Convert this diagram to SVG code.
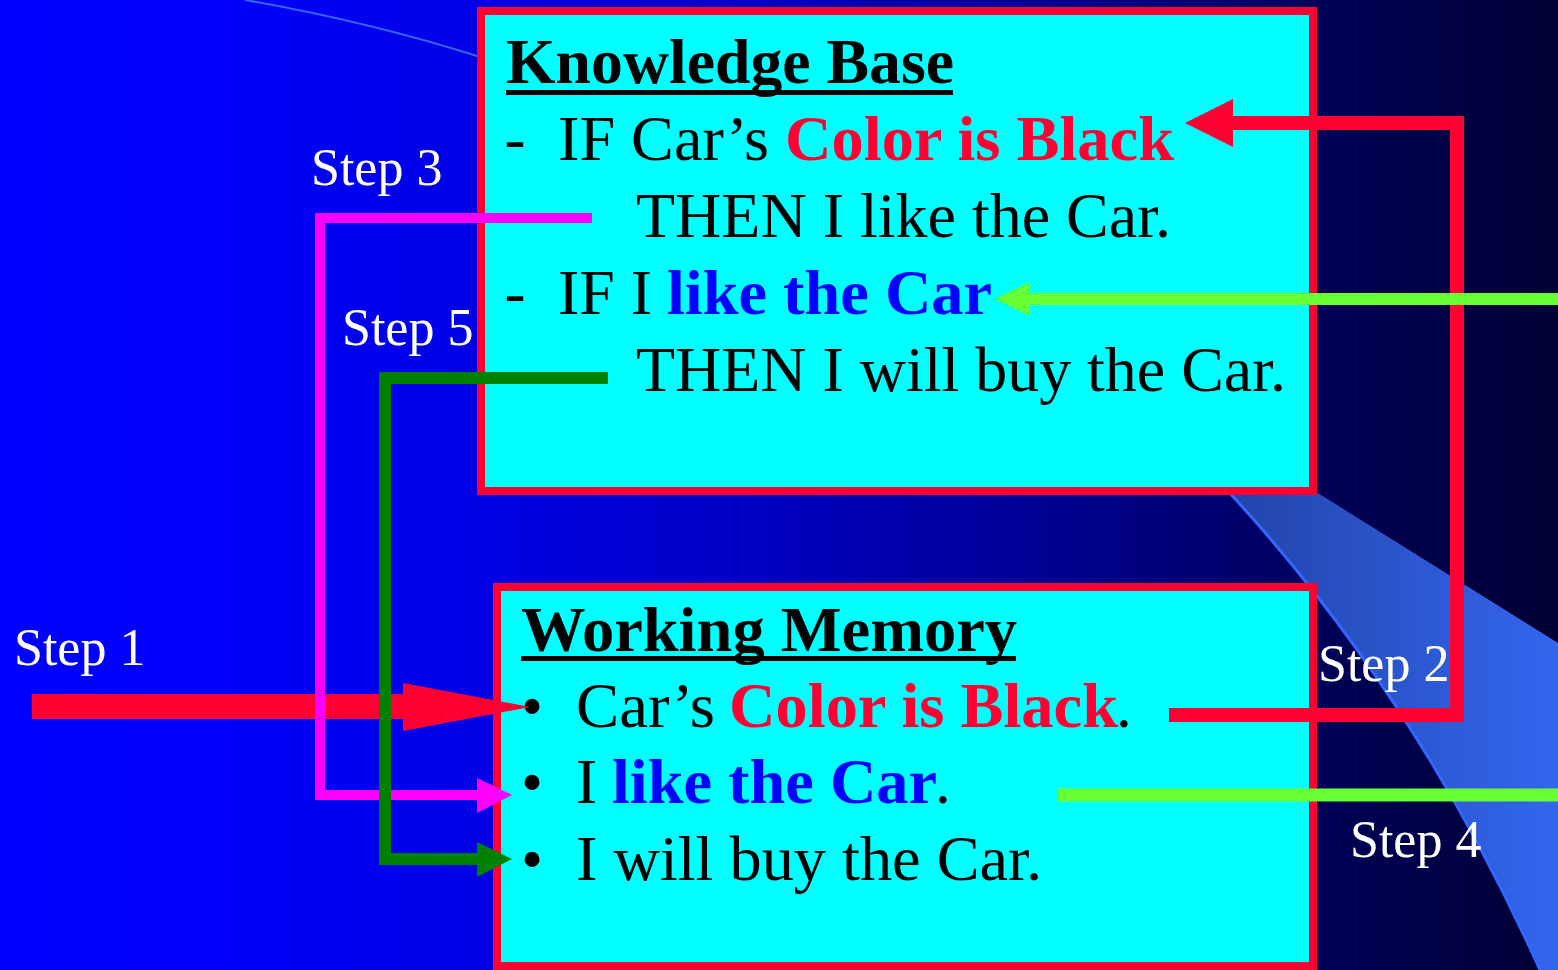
<svg xmlns="http://www.w3.org/2000/svg" width="1558" height="970" viewBox="0 0 1558 970">
<defs>
<linearGradient id="bg" x1="0" y1="0" x2="1558" y2="0" gradientUnits="userSpaceOnUse">
<stop offset="0" stop-color="#0000FF"/>
<stop offset="0.15" stop-color="#0000FA"/>
<stop offset="0.30" stop-color="#0000E6"/>
<stop offset="0.50" stop-color="#0000C0"/>
<stop offset="0.65" stop-color="#000098"/>
<stop offset="0.78" stop-color="#000070"/>
<stop offset="0.85" stop-color="#000058"/>
<stop offset="1" stop-color="#000033"/>
</linearGradient>
<linearGradient id="band" x1="1227" y1="0" x2="1558" y2="0" gradientUnits="userSpaceOnUse">
<stop offset="0" stop-color="#2244AA"/>
<stop offset="1" stop-color="#3366EE"/>
</linearGradient>
<style>
.t{font-family:"Liberation Serif","Times New Roman",serif;font-size:63px;fill:#000}
.b{font-weight:bold}
.red{fill:#FF0033}
.blu{fill:#0000FF}
.step{font-family:"Liberation Serif","Times New Roman",serif;font-size:52px;fill:#FFFFFF}
.box{fill:#00FFFF;stroke:#FF0033;stroke-width:8}
.ul{fill:#000}
.ln{fill:none;stroke-linejoin:miter;stroke-linecap:butt}
</style>
</defs>
<g id="background">
<rect x="0" y="0" width="1558" height="970" fill="url(#bg)"/>
<path d="M1227,490 Q1416,694 1540,970 L1558,970 L1558,643 L1313,490 Z" fill="url(#band)"/>
<path d="M1227,490 Q1416,694 1540,970" fill="none" stroke="#3366FF" stroke-width="3"/>
<path d="M245,0 Q370,22 480,57" fill="none" stroke="#3366FF" stroke-width="2"/>
</g>
<g id="node-knowledge-base">
<rect class="box" x="481" y="11" width="832" height="480"/>
<text class="t b" x="506" y="83" textLength="448" lengthAdjust="spacingAndGlyphs">Knowledge Base</text>
<rect class="ul" x="506" y="90" width="447" height="5"/>
<text class="t" x="504.5" y="160">-</text>
<text class="t" x="558" y="160" textLength="211" lengthAdjust="spacingAndGlyphs">IF Car’s</text>
<text class="t b red" x="785" y="160" textLength="389" lengthAdjust="spacingAndGlyphs">Color is Black</text>
<text class="t" x="636" y="237" textLength="535" lengthAdjust="spacingAndGlyphs">THEN I like the Car.</text>
<text class="t" x="504.5" y="314">-</text>
<text class="t" x="558" y="314" textLength="94" lengthAdjust="spacingAndGlyphs">IF I</text>
<text class="t b blu" x="667" y="314" textLength="325" lengthAdjust="spacingAndGlyphs">like the Car</text>
<text class="t" x="636" y="391" textLength="650" lengthAdjust="spacingAndGlyphs">THEN I will buy the Car.</text>
</g>
<g id="node-working-memory">
<rect class="box" x="497" y="587" width="816" height="379"/>
<text class="t b" x="521" y="651" textLength="496" lengthAdjust="spacingAndGlyphs">Working Memory</text>
<rect class="ul" x="521" y="656" width="495" height="5"/>
<text class="t" x="521" y="727">•</text>
<text class="t" x="576" y="727" textLength="139" lengthAdjust="spacingAndGlyphs">Car’s</text>
<text class="t b red" x="729" y="727" textLength="389" lengthAdjust="spacingAndGlyphs">Color is Black</text>
<text class="t" x="1116" y="727">.</text>
<text class="t" x="521" y="803">•</text>
<text class="t" x="576" y="803">I</text>
<text class="t b blu" x="612" y="803" textLength="325" lengthAdjust="spacingAndGlyphs">like the Car</text>
<text class="t" x="935" y="803">.</text>
<text class="t" x="521" y="880">•</text>
<text class="t" x="576" y="880" textLength="466" lengthAdjust="spacingAndGlyphs">I will buy the Car.</text>
</g>
<g id="connectors">
<g id="step1">
<rect x="32" y="694" width="373" height="25" fill="#FF0033"/>
<polygon points="403,683 403,731 530,707" fill="#FF0033"/>
</g>
<g id="step2">
<path class="ln" d="M1169,715 H1457 V123 H1230" stroke="#FF0033" stroke-width="14"/>
<polygon points="1233,99 1233,147 1185,123" fill="#FF0033"/>
</g>
<g id="step3">
<path class="ln" d="M592,218 H320 V795 H480" stroke="#FF00FF" stroke-width="10"/>
<polygon points="477,778 477,813 512,795" fill="#FF00FF"/>
</g>
<g id="step4">
<path class="ln" d="M1558,299 H1028" stroke="#66FF33" stroke-width="12"/>
<polygon points="1030,282 1030,316 995,299" fill="#66FF33"/>
<path class="ln" d="M1058,795 H1558" stroke="#66FF33" stroke-width="13"/>
</g>
<g id="step5">
<path class="ln" d="M608,378 H385 V859 H480" stroke="#008000" stroke-width="12"/>
<polygon points="477,842 477,877 512,859" fill="#008000"/>
</g>
</g>
<g id="labels">
<text class="step" x="311" y="185">Step 3</text>
<text class="step" x="342" y="345">Step 5</text>
<text class="step" x="14" y="665">Step 1</text>
<text class="step" x="1318" y="681">Step 2</text>
<text class="step" x="1350" y="857">Step 4</text>
</g>
</svg>
